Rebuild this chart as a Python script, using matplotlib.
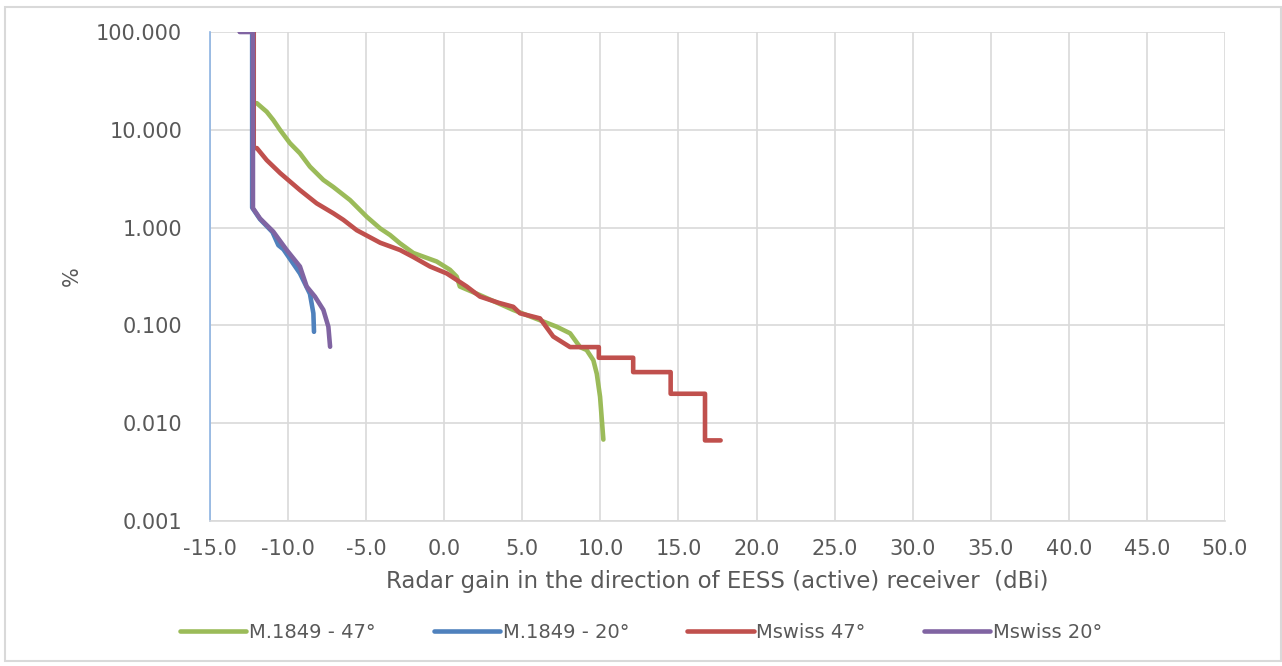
import matplotlib
matplotlib.use("Agg")
import matplotlib.pyplot as plt
from matplotlib.patches import Rectangle
from matplotlib.ticker import FixedLocator, FuncFormatter

# ---- data ----
g47_x = [-12.2, -12.2, -12.0, -11.37, -10.95, -10.52, -9.88, -9.24, -8.6, -7.74, -7.1, -6.03, -4.96,
         -4.1, -3.47, -2.83, -1.98, -0.48, 0.37, 0.8, 1.0, 2.29, 4.42, 6.13, 7.2, 8.06, 8.7, 9.12,
         9.55, 9.77, 9.98, 10.19]
g47_y = [100, 18.7, 18.7, 15.3, 12.6, 10.0, 7.3, 5.75, 4.2, 3.07, 2.6, 1.91, 1.29,
         0.98, 0.84, 0.69, 0.55, 0.45, 0.37, 0.315, 0.25, 0.204, 0.144, 0.113, 0.097, 0.083, 0.06, 0.056,
         0.044, 0.032, 0.0186, 0.0068]

b20_x = [-12.3, -12.3, -11.8, -11.0, -10.62, -10.3, -9.24, -8.6, -8.38, -8.34]
b20_y = [100, 1.6, 1.22, 0.9, 0.66, 0.6, 0.34, 0.21, 0.133, 0.086]

r47_x = [-12.2, -12.2, -12.0, -11.37, -10.5, -9.24, -8.17, -7.1, -6.46, -5.6, -4.1, -2.83, -1.98,
         -0.91, 0.16, 1.44, 2.29, 3.5, 4.42, 4.85, 6.13, 6.98, 8.06, 9.9, 9.9, 12.1, 12.1, 14.5,
         14.5, 16.7, 16.7, 17.7]
r47_y = [100, 6.5, 6.5, 4.9, 3.6, 2.42, 1.77, 1.4, 1.2, 0.94, 0.70, 0.59, 0.50,
         0.40, 0.34, 0.25, 0.197, 0.17, 0.155, 0.133, 0.118, 0.077, 0.06, 0.06, 0.0467, 0.0467, 0.0333, 0.0333,
         0.02, 0.02, 0.00667, 0.00667]

p20_x = [-13.1, -12.25, -12.25, -11.8, -10.95, -10.09, -9.24, -8.81, -8.28, -7.74, -7.42, -7.31]
p20_y = [100, 100, 1.58, 1.24, 0.91, 0.59, 0.40, 0.25, 0.197, 0.144, 0.097, 0.0605]

series_labels = ["M.1849 - 47°", "M.1849 - 20°", "Mswiss 47°", "Mswiss 20°"]
x_ticks = [-15, -10, -5, 0, 5, 10, 15, 20, 25, 30, 35, 40, 45, 50]
y_ticks = [0.001, 0.01, 0.1, 1, 10, 100]

x_label = "Radar gain in the direction of EESS (active) receiver  (dBi)"
y_label = "%"

colors = ["#9BBB59", "#4F81BD", "#C0504D", "#8064A2"]
text_color = "#595959"
grid_color = "#D9D9D9"

plt.rcParams['font.family'] = ['DejaVu Sans']

fig = plt.figure(figsize=(12.82, 6.66), dpi=100)
ax = fig.add_axes([210 / 1282, 1 - 521 / 666, (1225 - 210) / 1282, (521 - 32) / 666])

lw = 3.3
for xs, ys, c, lab in zip([g47_x, b20_x, r47_x, p20_x], [g47_y, b20_y, r47_y, p20_y], colors, series_labels):
    ax.plot(xs, ys, color=c, lw=lw, label=lab, solid_joinstyle='round', solid_capstyle='round', zorder=3)

ax.set_yscale('log')
ax.set_xlim(-15, 50)
ax.set_ylim(0.001, 100)
ax.xaxis.set_major_locator(FixedLocator(x_ticks))
ax.yaxis.set_major_locator(FixedLocator(y_ticks))
ax.yaxis.set_minor_locator(FixedLocator([]))
ax.xaxis.set_major_formatter(FuncFormatter(lambda v, p: f"{v:.1f}"))
ax.yaxis.set_major_formatter(FuncFormatter(lambda v, p: f"{v:.3f}"))

ax.grid(True, which='major', color=grid_color, lw=1.2, zorder=0)
ax.set_axisbelow(True)
for s in ['top', 'right']:
    ax.spines[s].set_visible(False)
ax.spines['bottom'].set_color(grid_color)
ax.spines['bottom'].set_linewidth(1.2)
ax.spines['left'].set_color("#8EB4E3")
ax.spines['left'].set_linewidth(1.2)
ax.tick_params(axis='both', length=0, labelsize=15, labelcolor=text_color)
ax.tick_params(axis='x', pad=13)
ax.tick_params(axis='y', pad=20)

ax.set_xlabel(x_label, fontsize=16.5, color=text_color, labelpad=8)
ax.set_ylabel(y_label, fontsize=15, color=text_color, labelpad=10)

leg = fig.legend(loc='center', bbox_to_anchor=(0.5, 1 - 632 / 666), ncol=4, frameon=False,
                 fontsize=14, handlelength=3.4, handletextpad=0.15, columnspacing=3.0)
for t in leg.get_texts():
    t.set_color(text_color)

fig.patches.append(Rectangle((5 / 1282, 5 / 666), 1276 / 1282, 654 / 666, transform=fig.transFigure,
                             fill=False, edgecolor="#D9D9D9", lw=1.5))

fig.savefig("out.png", dpi=100)
